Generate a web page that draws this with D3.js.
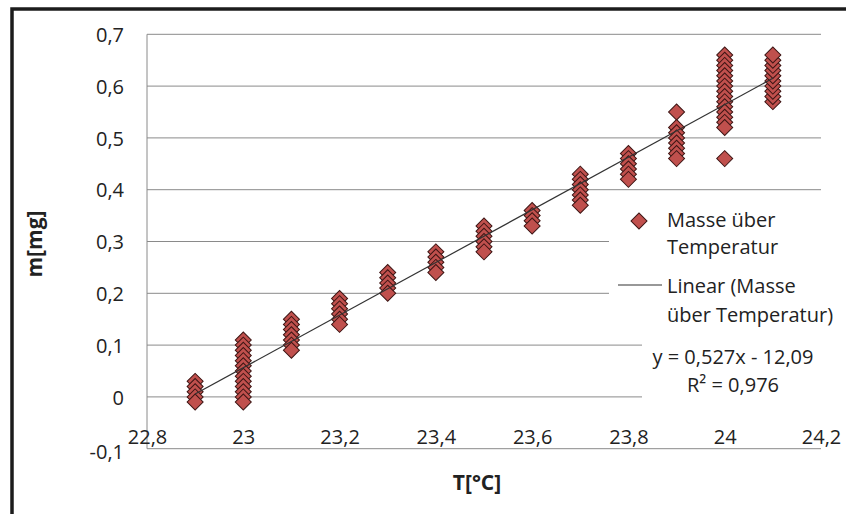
<!DOCTYPE html>
<html>
<head>
<meta charset="utf-8">
<script src="https://cdn.jsdelivr.net/npm/d3@7"></script>
<style>
  html, body { margin: 0; padding: 0; background: #ffffff; }
  svg { display: block; }
  text { font-family: "Open Sans", "Noto Sans", sans-serif; fill: #222; }
</style>
</head>
<body>
<svg id="chart" width="846" height="514"></svg>
<script>
// ---- data ----
const temperatures = [22.9, 23.0, 23.1, 23.2, 23.3, 23.4, 23.5, 23.6, 23.7, 23.8, 23.9, 24.0, 24.1];
const massValues = [
  [0.03, 0.02, 0.01, 0.00, -0.01],
  [0.11, 0.10, 0.09, 0.08, 0.07, 0.06, 0.05, 0.04, 0.03, 0.02, 0.01, 0.00, -0.01],
  [0.15, 0.14, 0.13, 0.12, 0.11, 0.10, 0.09],
  [0.19, 0.18, 0.17, 0.16, 0.15, 0.14],
  [0.24, 0.23, 0.22, 0.21, 0.20],
  [0.28, 0.27, 0.26, 0.25, 0.24],
  [0.33, 0.32, 0.31, 0.30, 0.29, 0.28],
  [0.36, 0.35, 0.34, 0.33],
  [0.43, 0.42, 0.41, 0.40, 0.39, 0.38, 0.37],
  [0.47, 0.46, 0.45, 0.44, 0.43, 0.42],
  [0.55, 0.52, 0.51, 0.50, 0.49, 0.48, 0.47, 0.46],
  [0.46, 0.66, 0.65, 0.64, 0.63, 0.62, 0.61, 0.60, 0.59, 0.58, 0.57, 0.56, 0.55, 0.54, 0.53, 0.52],
  [0.57, 0.58, 0.59, 0.60, 0.61, 0.62, 0.63, 0.64, 0.65, 0.66]
];
const xTicks = [22.8, 23.0, 23.2, 23.4, 23.6, 23.8, 24.0, 24.2];
const xTickLabels = ["22,8", "23", "23,2", "23,4", "23,6", "23,8", "24", "24,2"];
const yTicks = [-0.1, 0, 0.1, 0.2, 0.3, 0.4, 0.5, 0.6, 0.7];
const yTickLabels = ["-0,1", "0", "0,1", "0,2", "0,3", "0,4", "0,5", "0,6", "0,7"];
const xTitle = "T[°C]";
const yTitle = "m[mg]";
const seriesName = ["Masse über", "Temperatur"];
const trendName = ["Linear (Masse", "über Temperatur)"];
const trendEquation = ["y = 0,527x - 12,09", "R² = 0,976"];

// ---- layout ----
const svg = d3.select("#chart");
const plot = { left: 147, right: 821, top: 34.3, bottom: 448.7 };
const x = d3.scaleLinear().domain([22.8, 24.2]).range([plot.left, plot.right]);
const y = d3.scaleLinear().domain([-0.1, 0.7]).range([plot.bottom, plot.top]);

// outer chart frame (only left/top visible)
svg.append("rect")
  .attr("x", 12).attr("y", 9).attr("width", 1000).attr("height", 700)
  .attr("fill", "#ffffff").attr("stroke", "#1c1c1c").attr("stroke-width", 3.5);

// gridlines
svg.append("g").selectAll("line").data(yTicks).join("line")
  .attr("x1", plot.left).attr("x2", plot.right)
  .attr("y1", d => y(d)).attr("y2", d => y(d))
  .attr("stroke", "#8a8a8a").attr("stroke-width", 1);
// vertical axis line
svg.append("line")
  .attr("x1", plot.left).attr("x2", plot.left)
  .attr("y1", plot.top).attr("y2", plot.bottom)
  .attr("stroke", "#8a8a8a").attr("stroke-width", 1);

// y tick labels
const yAxis = d3.axisLeft(y).tickValues(yTicks).tickSize(0).tickPadding(0)
  .tickFormat((d, i) => yTickLabels[i]);
const gy = svg.append("g").attr("transform", `translate(124,0)`).call(yAxis);
gy.select(".domain").remove();
gy.selectAll("text").attr("font-size", 20).attr("fill", "#222")
  .attr("font-family", "'Open Sans', sans-serif").attr("dy", "0.36em")
  .attr("transform", (d) => d === -0.1 ? "translate(0,3)" : null);

// x tick labels
const xAxis = d3.axisBottom(x).tickValues(xTicks).tickSize(0).tickPadding(0)
  .tickFormat((d, i) => xTickLabels[i]);
const gx = svg.append("g").attr("transform", `translate(0,437)`).call(xAxis);
gx.select(".domain").remove();
gx.selectAll("text").attr("font-size", 20).attr("fill", "#222")
  .attr("font-family", "'Open Sans', sans-serif").attr("dy", "0.36em");

// points
const points = [];
temperatures.forEach((t, i) => massValues[i].forEach(m => points.push({ t, m })));

// linear regression from data
const mx = d3.mean(points, p => p.t), my = d3.mean(points, p => p.m);
const sxy = d3.sum(points, p => (p.t - mx) * (p.m - my));
const sxx = d3.sum(points, p => (p.t - mx) * (p.t - mx));
const slope = sxy / sxx, intercept = my - slope * mx;
const tExtent = d3.extent(temperatures);

const diamond = d3.symbol().type(d3.symbolSquare).size(128);
svg.append("g").selectAll("path").data(points).join("path")
  .attr("d", diamond)
  .attr("transform", p => `translate(${x(p.t)},${y(p.m)}) rotate(45)`)
  .attr("fill", "#c0504d").attr("stroke", "#3d1514").attr("stroke-width", 1);

svg.append("line")
  .attr("x1", x(tExtent[0])).attr("y1", y(slope * tExtent[0] + intercept))
  .attr("x2", x(tExtent[1])).attr("y2", y(slope * tExtent[1] + intercept))
  .attr("stroke", "#333").attr("stroke-width", 1.2);

// legend
svg.append("rect").attr("x", 609).attr("y", 198).attr("width", 214).attr("height", 134).attr("fill", "#ffffff");
svg.append("path").attr("d", diamond)
  .attr("transform", `translate(639,221) rotate(45)`)
  .attr("fill", "#c0504d").attr("stroke", "#3d1514").attr("stroke-width", 1);
const lg = svg.append("g").attr("font-size", 20);
seriesName.forEach((s, i) => lg.append("text").attr("x", 667).attr("y", 220 + i * 27)
  .attr("dy", "0.36em").text(s));
svg.append("line").attr("x1", 618).attr("x2", 662).attr("y1", 285).attr("y2", 285)
  .attr("stroke", "#333").attr("stroke-width", 1.2);
trendName.forEach((s, i) => lg.append("text").attr("x", 667).attr("y", 286 + i * 29)
  .attr("dy", "0.36em").text(s));

// trend equation label
svg.append("rect").attr("x", 642).attr("y", 336).attr("width", 181).attr("height", 66).attr("fill", "#ffffff");
trendEquation.forEach((s, i) => svg.append("text").attr("x", 733).attr("y", 357 + i * 28)
  .attr("dy", "0.36em").attr("text-anchor", "middle").attr("font-size", 20).text(s));

// axis titles
svg.append("text").attr("x", 477).attr("y", 482).attr("dy", "0.36em")
  .attr("text-anchor", "middle").attr("font-weight", "bold").attr("font-size", 21).text(xTitle);
svg.append("text").attr("transform", "translate(34,244) rotate(-90)").attr("dy", "0.36em")
  .attr("text-anchor", "middle").attr("font-weight", "bold").attr("font-size", 21).text(yTitle);
</script>
</body>
</html>
